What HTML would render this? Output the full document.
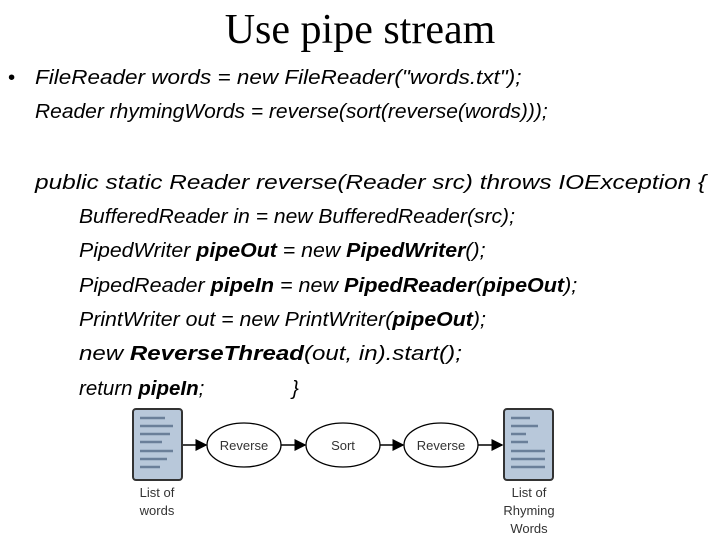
<html><head><style>
body{margin:0;width:720px;height:540px;background:#fff;position:relative;overflow:hidden;font-family:"Liberation Sans",sans-serif}
.t{position:absolute;left:0;width:720px;text-align:center;top:6px;font:42px "Liberation Serif",serif}
.l{position:absolute;font-size:20.5px;font-style:italic;white-space:nowrap;line-height:24px;transform-origin:0 50%}
.s{position:absolute;font-size:13px;color:#333;text-align:center;line-height:18px}
</style></head><body>
<div class="t">Use pipe stream</div>
<div class="l" style="left:8px;top:66px;font-style:normal">•</div>
<div class="l" style="left:35px;top:66px;transform:scaleX(1.097)">FileReader words = new FileReader("words.txt");</div>
<div class="l" style="left:35px;top:100px;transform:scaleX(1.024)">Reader rhymingWords = reverse(sort(reverse(words)));</div>
<div class="l" style="left:35px;top:171px;transform:scaleX(1.19)">public static Reader reverse(Reader src) throws IOException {</div>
<div class="l" style="left:79px;top:205px;transform:scaleX(1.027)">BufferedReader in = new BufferedReader(src);</div>
<div class="l" style="left:79px;top:239px;transform:scaleX(1.04)">PipedWriter <b>pipeOut</b> = new <b>PipedWriter</b>();</div>
<div class="l" style="left:79px;top:274px;transform:scaleX(1.05)">PipedReader <b>pipeIn</b> = new <b>PipedReader</b>(<b>pipeOut</b>);</div>
<div class="l" style="left:79px;top:308px;transform:scaleX(1.04)">PrintWriter out = new PrintWriter(<b>pipeOut</b>);</div>
<div class="l" style="left:79px;top:342px;transform:scaleX(1.175)">new <b>ReverseThread</b>(out, in).start();</div>
<div class="l" style="left:79px;top:377px">return <b>pipeIn</b>;</div>
<div class="l" style="left:292px;top:377px">}</div>
<svg width="720" height="540" style="position:absolute;left:0;top:0">
<defs><marker id="a" markerWidth="8" markerHeight="8" refX="7" refY="4" orient="auto"><path d="M0,0L8,4L0,8z" fill="#000"/></marker></defs>
<rect x="133" y="409" width="49" height="71" rx="3" fill="#b8c8da" stroke="#333" stroke-width="2"/>
<g stroke="#6a7f99" stroke-width="2.5">
<line x1="140" y1="418" x2="165" y2="418"/><line x1="140" y1="426" x2="173" y2="426"/><line x1="140" y1="434" x2="170" y2="434"/><line x1="140" y1="442" x2="162" y2="442"/><line x1="140" y1="451" x2="173" y2="451"/><line x1="140" y1="459" x2="167" y2="459"/><line x1="140" y1="467" x2="160" y2="467"/>
</g>
<rect x="504" y="409" width="49" height="71" rx="3" fill="#b8c8da" stroke="#333" stroke-width="2"/>
<g stroke="#6a7f99" stroke-width="2.5">
<line x1="511" y1="418" x2="530" y2="418"/><line x1="511" y1="426" x2="538" y2="426"/><line x1="511" y1="434" x2="526" y2="434"/><line x1="511" y1="442" x2="528" y2="442"/><line x1="511" y1="451" x2="545" y2="451"/><line x1="511" y1="459" x2="545" y2="459"/><line x1="511" y1="467" x2="545" y2="467"/>
</g>
<g fill="#fff" stroke="#000" stroke-width="1.3">
<ellipse cx="244" cy="445" rx="37" ry="22"/><ellipse cx="343" cy="445" rx="37" ry="22"/><ellipse cx="441" cy="445" rx="37" ry="22"/>
</g>
<g stroke="#000" stroke-width="1.5" marker-end="url(#a)">
<line x1="183" y1="445" x2="206" y2="445"/><line x1="281" y1="445" x2="305" y2="445"/><line x1="380" y1="445" x2="403" y2="445"/><line x1="478" y1="445" x2="502" y2="445"/>
</g>
<g font-family="Liberation Sans" font-size="13" fill="#333" text-anchor="middle">
<text x="244" y="450">Reverse</text><text x="343" y="450">Sort</text><text x="441" y="450">Reverse</text>
</g>
</svg>
<div class="s" style="left:127px;top:484px;width:60px">List of<br>words</div>
<div class="s" style="left:498px;top:484px;width:62px">List of<br>Rhyming<br>Words</div>
</body></html>
